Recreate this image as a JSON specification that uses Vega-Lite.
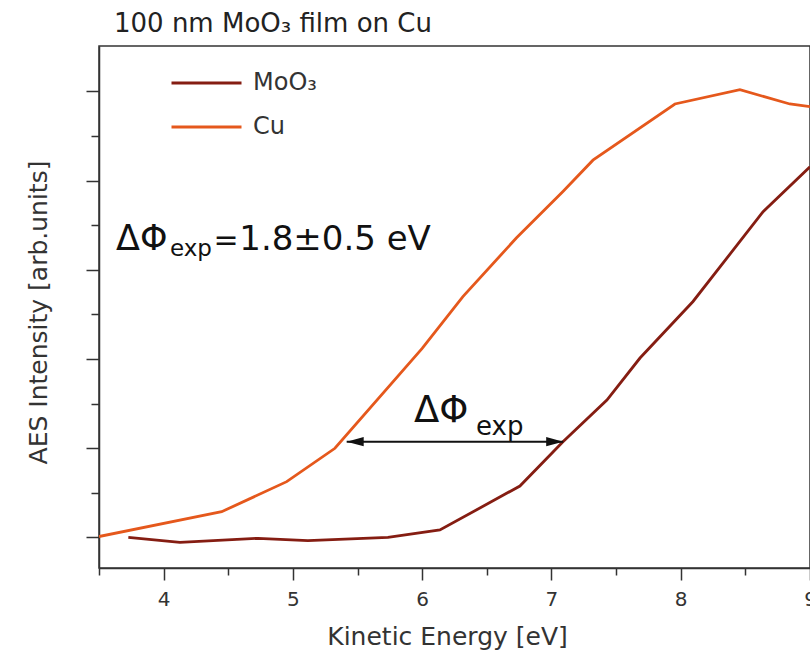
{
  "$schema": "https://vega.github.io/schema/vega-lite/v6.json",
  "width": 711,
  "height": 522,
  "autosize": "none",
  "padding": {"left": 99, "top": 46, "right": 0, "bottom": 84},
  "background": "white",
  "config": {
    "view": {"stroke": "#333", "strokeWidth": 1.5},
    "font": "DejaVu Sans",
    "axis": {
      "domainColor": "#333", "domainWidth": 1.5,
      "tickColor": "#333", "tickWidth": 1.5,
      "grid": false,
      "labelFont": "DejaVu Sans", "labelColor": "#333",
      "titleFont": "DejaVu Sans", "titleFontWeight": "normal", "titleColor": "#333"
    }
  },
  "title": {
    "text": "100 nm MoO₃ film on Cu",
    "anchor": "start",
    "frame": "group",
    "dx": 15,
    "offset": 9,
    "font": "DejaVu Sans",
    "fontSize": 26,
    "fontWeight": "normal",
    "color": "#222"
  },
  "data": {
    "values": [
      {"series": "Cu", "energy": 3.5, "intensity": 0.011},
      {"series": "Cu", "energy": 4.449, "intensity": 0.289},
      {"series": "Cu", "energy": 4.952, "intensity": 0.626},
      {"series": "Cu", "energy": 5.325, "intensity": 1.0},
      {"series": "Cu", "energy": 6.0, "intensity": 2.12},
      {"series": "Cu", "energy": 6.315, "intensity": 2.7},
      {"series": "Cu", "energy": 6.73, "intensity": 3.36},
      {"series": "Cu", "energy": 7.089, "intensity": 3.88},
      {"series": "Cu", "energy": 7.321, "intensity": 4.23},
      {"series": "Cu", "energy": 7.955, "intensity": 4.86},
      {"series": "Cu", "energy": 8.458, "intensity": 5.02},
      {"series": "Cu", "energy": 8.844, "intensity": 4.86},
      {"series": "Cu", "energy": 9.0, "intensity": 4.83},
      {"series": "MoO₃", "energy": 3.727, "intensity": 0.002},
      {"series": "MoO₃", "energy": 4.126, "intensity": -0.054},
      {"series": "MoO₃", "energy": 4.73, "intensity": -0.009},
      {"series": "MoO₃", "energy": 5.116, "intensity": -0.036},
      {"series": "MoO₃", "energy": 5.735, "intensity": 0.002},
      {"series": "MoO₃", "energy": 6.137, "intensity": 0.084},
      {"series": "MoO₃", "energy": 6.756, "intensity": 0.577},
      {"series": "MoO₃", "energy": 7.089, "intensity": 1.074},
      {"series": "MoO₃", "energy": 7.429, "intensity": 1.541},
      {"series": "MoO₃", "energy": 7.685, "intensity": 2.012},
      {"series": "MoO₃", "energy": 8.095, "intensity": 2.646},
      {"series": "MoO₃", "energy": 8.637, "intensity": 3.652},
      {"series": "MoO₃", "energy": 9.0, "intensity": 4.157}
    ]
  },
  "layer": [
    {
      "mark": {"type": "line", "strokeWidth": 2.8, "clip": true},
      "encoding": {
        "x": {
          "field": "energy", "type": "quantitative",
          "scale": {"domain": [3.5, 9.0], "nice": false, "zero": false},
          "axis": {
            "title": "Kinetic Energy [eV]",
            "titleFontSize": 25,
            "titleX": 348, "titleY": 68,
            "titleBaseline": "middle", "titleAlign": "center",
            "values": [3.5, 4, 4.5, 5, 5.5, 6, 6.5, 7, 7.5, 8, 8.5, 9],
            "labelExpr": "datum.value % 1 === 0 ? format(datum.value, 'd') : ''",
            "labelFontSize": 20,
            "labelPadding": 9,
            "tickSize": {"condition": {"test": "datum.value % 1 === 0", "value": 12}, "value": 7},
            "labelFlush": false,
            "labelOverlap": false
          }
        },
        "y": {
          "field": "intensity", "type": "quantitative",
          "scale": {"domain": [-0.342, 5.51], "nice": false, "zero": false},
          "axis": {
            "title": "AES Intensity [arb.units]",
            "titleFontSize": 25,
            "titleX": -61, "titleY": 266,
            "titleAngle": -90,
            "titleBaseline": "middle", "titleAlign": "center",
            "values": [0, 0.5, 1, 1.5, 2, 2.5, 3, 3.5, 4, 4.5, 5],
            "labels": false,
            "tickSize": {"condition": {"test": "datum.value % 1 === 0", "value": 13}, "value": 8}
          }
        },
        "color": {
          "field": "series", "type": "nominal",
          "scale": {"domain": ["MoO₃", "Cu"], "range": ["#851d12", "#e5581c"]},
          "legend": {
            "title": null,
            "orient": "none",
            "legendX": 71,
            "legendY": 17,
            "symbolType": "stroke",
            "symbolSize": 4900,
            "symbolStrokeWidth": 3,
            "clipHeight": 40,
            "rowPadding": 4,
            "labelFont": "DejaVu Sans",
            "labelFontSize": 24,
            "labelColor": "#333",
            "labelOffset": 10,
            "padding": 0
          }
        }
      }
    },
    {
      "data": {"values": [{}]},
      "mark": {"type": "rule", "color": "#111", "strokeWidth": 2},
      "encoding": {"x": {"datum": 5.416}, "x2": {"datum": 7.091}, "y": {"datum": 1.074}}
    },
    {
      "data": {"values": [{}]},
      "mark": {"type": "point", "shape": "M0,0L2,-0.55L2,0.55Z", "size": 289, "filled": true, "color": "#111", "opacity": 1, "strokeWidth": 0},
      "encoding": {"x": {"datum": 5.416}, "y": {"datum": 1.074}}
    },
    {
      "data": {"values": [{}]},
      "mark": {"type": "point", "shape": "M0,0L-2,-0.55L-2,0.55Z", "size": 289, "filled": true, "color": "#111", "opacity": 1, "strokeWidth": 0},
      "encoding": {"x": {"datum": 7.091}, "y": {"datum": 1.074}}
    },
    {
      "data": {"values": [{}]},
      "mark": {"type": "text", "text": "ΔΦ", "font": "DejaVu Sans", "fontSize": 35, "align": "left", "baseline": "alphabetic", "color": "#111"},
      "encoding": {"x": {"datum": 3.631}, "y": {"datum": 3.223}}
    },
    {
      "data": {"values": [{}]},
      "mark": {"type": "text", "text": "exp", "font": "DejaVu Sans", "fontSize": 23, "align": "left", "baseline": "alphabetic", "color": "#111"},
      "encoding": {"x": {"datum": 4.049}, "y": {"datum": 3.156}}
    },
    {
      "data": {"values": [{}]},
      "mark": {"type": "text", "text": "=", "font": "DejaVu Sans", "fontSize": 30, "align": "left", "baseline": "alphabetic", "color": "#111"},
      "encoding": {"x": {"datum": 4.385}, "y": {"datum": 3.223}}
    },
    {
      "data": {"values": [{}]},
      "mark": {"type": "text", "text": "1.8±0.5 eV", "font": "DejaVu Sans", "fontSize": 34, "align": "left", "baseline": "alphabetic", "color": "#111"},
      "encoding": {"x": {"datum": 4.585}, "y": {"datum": 3.223}}
    },
    {
      "data": {"values": [{}]},
      "mark": {"type": "text", "text": "ΔΦ", "font": "DejaVu Sans", "fontSize": 37, "align": "left", "baseline": "alphabetic", "color": "#111"},
      "encoding": {"x": {"datum": 5.936}, "y": {"datum": 1.297}}
    },
    {
      "data": {"values": [{}]},
      "mark": {"type": "text", "text": "exp", "font": "DejaVu Sans", "fontSize": 26, "align": "left", "baseline": "alphabetic", "color": "#111"},
      "encoding": {"x": {"datum": 6.416}, "y": {"datum": 1.149}}
    }
  ]
}
